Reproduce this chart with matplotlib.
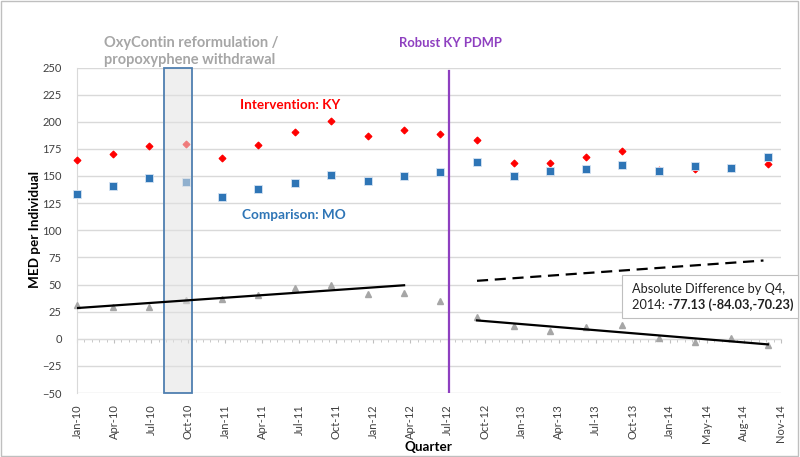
import matplotlib
matplotlib.use("Agg")
import matplotlib.pyplot as plt
import matplotlib.dates as mdates
from matplotlib.patches import Rectangle
import numpy as np
import datetime as dt

plt.rcParams['font.family'] = ['Lato', 'DejaVu Sans']

# ---------------- data ----------------
quarters = ['2010-01-01', '2010-04-01', '2010-07-01', '2010-10-01',
            '2011-01-01', '2011-04-01', '2011-07-01', '2011-10-01',
            '2012-01-01', '2012-04-01', '2012-07-01', '2012-10-01',
            '2013-01-01', '2013-04-01', '2013-07-01', '2013-10-01',
            '2014-01-01', '2014-04-01', '2014-07-01', '2014-10-01']
intervention_ky = [164.8, 170.6, 177.7, 179.8, 167.0, 178.6, 190.3, 200.7, 187.2, 192.4,
                   188.5, 183.2, 162.0, 161.8, 167.3, 173.1, 155.3, 156.3, 157.5, 161.4]
comparison_mo = [133.5, 140.9, 148.3, 144.3, 130.8, 138.4, 143.6, 151.0, 145.8, 150.1,
                 153.8, 163.0, 150.4, 154.7, 156.8, 160.2, 155.0, 159.0, 157.2, 167.6]
difference = [31.0, 29.5, 28.9, 35.6, 36.2, 39.9, 46.7, 49.4, 41.1, 42.4,
              35.0, 20.0, 11.7, 6.8, 10.4, 12.6, 0.3, -2.8, 0.3, -5.8]
pre_trend_x = ['2010-01-01', '2012-04-01']
pre_trend_y = [28.3, 49.3]
post_trend_x = ['2012-10-01', '2014-10-01']
post_trend_y = [16.9, -5.2]
counterfactual_x = ['2012-10-01', '2014-09-20']
counterfactual_y = [53.4, 72.1]
oxycontin_window = ['2010-08-07', '2010-10-16']
pdmp_date = '2012-07-23'
yticks = list(range(-50, 251, 25))

def d(s):
    return dt.datetime.strptime(s, '%Y-%m-%d')

qx = [d(q) for q in quarters]

W, H = 800, 457
fig = plt.figure(figsize=(W / 100, H / 100), dpi=100)
L, R, T, B = 77, 781, 67.5, 393
ax = fig.add_axes([L / W, 1 - B / H, (R - L) / W, (B - T) / H])

x0 = d('2010-01-01')
x1 = x0 + dt.timedelta(days=93 * 19)
ax.set_xlim(x0, x1)
ax.set_ylim(-50, 250)

# grid
grid_c = '#D9D9D9'
ax.set_yticks(yticks)
ax.yaxis.grid(True, color=grid_c, lw=1.0, zorder=0)
ax.set_axisbelow(True)
for s in ['top', 'right', 'bottom']:
    ax.spines[s].set_visible(False)
ax.spines['left'].set_color(grid_c)
ax.tick_params(axis='y', length=0, labelsize=8, labelcolor='#404040', pad=11)

# x tick labels at bottom (93 day steps)
xt = [x0 + dt.timedelta(days=93 * k) for k in range(20)]
ax.set_xticks(xt)
ax.set_xticklabels([t.strftime('%b-%y') for t in xt], rotation=90)
ax.tick_params(axis='x', length=0, labelsize=8, labelcolor='#404040', pad=8)

# zero axis line with minor ticks
sec = ax.secondary_xaxis(50 / 300)
sec.set_xticks(xt)
sec.set_xticks([x0 + dt.timedelta(days=93 * k / 5) for k in range(19 * 5 + 1)], minor=True)
sec.tick_params(axis='x', which='major', length=3, color='#BFBFBF', labelbottom=False, direction='out')
sec.tick_params(axis='x', which='minor', length=2.5, color='#BFBFBF', direction='out')
sec.xaxis.set_ticklabels([])
sec.spines['bottom'].set_color('#D9D9D9')
for s in ['top', 'left', 'right']:
    sec.spines[s].set_visible(False)

# markers
ax.plot(qx, intervention_ky, ls='none', marker='D', ms=3.5, color='#FF0000', mec='#FF0000',
        mew=0.8, zorder=3, clip_on=False)
ax.plot(qx, comparison_mo, ls='none', marker='s', ms=5.4, color='#2E75B6', mec='#D6E3F2',
        mew=0.6, zorder=3.2, clip_on=False)
ax.plot(qx, difference, ls='none', marker='^', ms=5.0, color='#A6A6A6', mec='#A6A6A6',
        zorder=3, clip_on=False)

# oxycontin window box
ox0, ox1 = d(oxycontin_window[0]), d(oxycontin_window[1])
ax.add_patch(Rectangle((mdates.date2num(ox0), -50), mdates.date2num(ox1) - mdates.date2num(ox0), 300,
                       facecolor='#E2E2E2', alpha=0.55, edgecolor='none', zorder=4))
ax.add_patch(Rectangle((mdates.date2num(ox0), -50), mdates.date2num(ox1) - mdates.date2num(ox0), 300,
                       facecolor='none', edgecolor='#4F7FB0', lw=1.3, zorder=4, clip_on=False))

# trend lines
ax.plot([d(s) for s in pre_trend_x], pre_trend_y, color='black', lw=1.6, zorder=5)
ax.plot([d(s) for s in post_trend_x], post_trend_y, color='black', lw=1.6, zorder=5)
ax.plot([d(s) for s in counterfactual_x], counterfactual_y, color='black', lw=1.6,
        ls=(0, (5, 3)), zorder=5)

# PDMP line
ax.axvline(d(pdmp_date), ymin=0, ymax=0.99, color='#8E3FC0', lw=1.6, zorder=5)

# text labels (pixel coords helper)
def fx(px):
    return px / W

def fy(py):
    return 1 - py / H

fig.text(fx(104), fy(43), 'OxyContin reformulation /', color='#A6A6A6', fontsize=10.5,
         fontweight='bold', va='center', ha='left')
fig.text(fx(104), fy(60), 'propoxyphene withdrawal', color='#A6A6A6', fontsize=10.5,
         fontweight='bold', va='center', ha='left')
fig.text(fx(450), fy(43), 'Robust KY PDMP', color='#8E3FC0', fontsize=9.4,
         fontweight='bold', va='center', ha='center')
fig.text(fx(290), fy(105), 'Intervention: KY', color='#FF0000', fontsize=9.7,
         fontweight='bold', va='center', ha='center')
fig.text(fx(294), fy(215), 'Comparison: MO', color='#2E75B6', fontsize=9.8,
         fontweight='bold', va='center', ha='center')

# annotation box
ann_fs = 9.2
fig.patches.append(Rectangle((fx(622), fy(318)), fx(798) - fx(622), fy(275) - fy(318),
                             transform=fig.transFigure, facecolor='white', edgecolor='#BFBFBF',
                             lw=0.8, zorder=10))
fig.text(fx(632), fy(289), 'Absolute Difference by Q4,', fontsize=ann_fs, color='#202020',
         va='center', ha='left', zorder=11)
t1 = fig.text(fx(632), fy(305), '2014: ', fontsize=ann_fs, color='#202020',
              va='center', ha='left', zorder=11)
fig.canvas.draw()
bb = t1.get_window_extent()
fig.text(bb.x1 / W, fy(305), '-77.13 (-84.03,-70.23)', fontsize=ann_fs, color='#202020',
         fontweight='bold', va='center', ha='left', zorder=11)

# axis labels
fig.text(fx(35), fy(230), 'MED per Individual', rotation=90, fontsize=9.7,
         fontweight='bold', va='center', ha='center')
fig.text(fx(428), fy(447), 'Quarter', fontsize=9.7, fontweight='bold', va='center', ha='center')

# chart border
fig.patches.append(Rectangle((0.5 / W, fy(456)), 797 / W, 455.5 / H, transform=fig.transFigure,
                             facecolor='none', edgecolor='#BFBFBF', lw=1.0, zorder=0))

fig.savefig('out.png', dpi=100)
